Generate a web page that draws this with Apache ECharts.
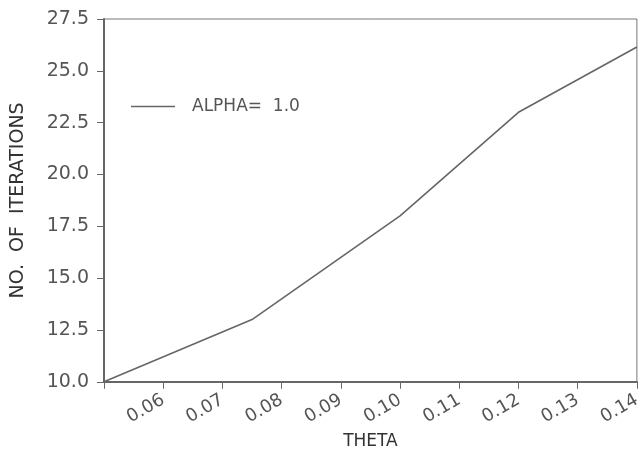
<!DOCTYPE html>
<html>
<head>
<meta charset="utf-8">
<script src="https://cdn.jsdelivr.net/npm/echarts@6/dist/echarts.min.js"></script>
<style>
  html, body { margin: 0; padding: 0; background: #fff; }
  #chart { width: 644px; height: 455px; }
</style>
</head>
<body>
<div id="chart"></div>
<script>
// values
const theta = [0.05, 0.075, 0.10, 0.12, 0.14];
const iterations = [10.0, 13.0, 18.0, 23.0, 26.15];
const seriesName = 'ALPHA=  1.0';

const chart = echarts.init(document.getElementById('chart'));
const ink = '#555';
const font = 'DejaVu Sans';

chart.setOption({
  animation: false,
  backgroundColor: '#fff',
  grid: {
    left: 104, right: 4, top: 19, bottom: 71,
    show: true, borderColor: '#777', borderWidth: 1
  },
  legend: {
    left: 126, top: 93,
    itemWidth: 44, itemHeight: 1.5,
    icon: 'rect',
    data: [{ name: seriesName, itemStyle: { color: '#666' } }],
    textStyle: { fontFamily: font, fontSize: 17, color: ink, padding: [0, 0, 0, 12] }
  },
  xAxis: {
    type: 'value',
    min: 0.05, max: 0.14, interval: 0.01,
    name: 'THETA',
    nameLocation: 'middle',
    nameGap: 48,
    nameTextStyle: { fontFamily: font, fontSize: 17, color: '#333' },
    axisLine: { lineStyle: { color: '#666', width: 2 } },
    axisTick: { length: 7, lineStyle: { color: '#666' } },
    axisLabel: {
      rotate: 30, margin: 17,
      padding: [0, 0, 0, 0],
      fontFamily: font, fontSize: 18, color: ink,
      formatter: v => (Math.abs(v - 0.05) < 1e-9 ? '' : v.toFixed(2))
    },
    splitLine: { show: false }
  },
  yAxis: {
    type: 'value',
    min: 10, max: 27.5, interval: 2.5,
    name: 'NO.  OF  ITERATIONS',
    nameLocation: 'middle',
    nameGap: 76,
    nameTextStyle: { fontFamily: font, fontSize: 19, color: '#333' },
    axisLine: { show: true, lineStyle: { color: '#666', width: 2 } },
    axisTick: { show: true, length: 7, lineStyle: { color: '#666' } },
    axisLabel: {
      margin: 15,
      fontFamily: font, fontSize: 19, color: ink,
      formatter: v => v.toFixed(1)
    },
    splitLine: { show: false }
  },
  series: [{
    name: seriesName,
    type: 'line',
    data: theta.map((t, i) => [t, iterations[i]]),
    showSymbol: false,
    lineStyle: { color: '#666', width: 1.6 }
  }]
});
</script>
</body>
</html>
